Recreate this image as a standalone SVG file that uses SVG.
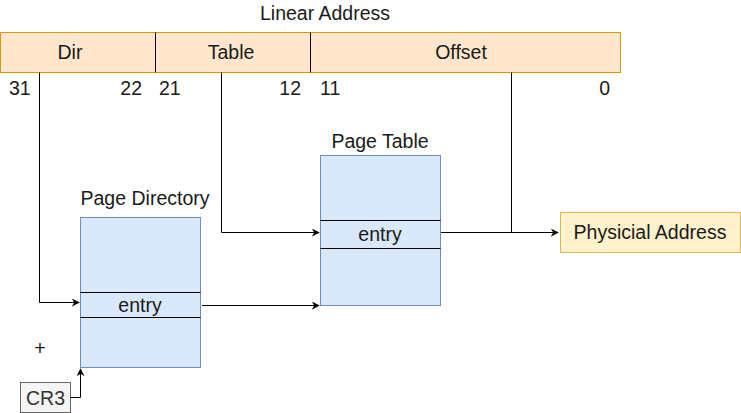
<svg xmlns="http://www.w3.org/2000/svg" width="741" height="413" viewBox="0 0 741 413">
<defs>
<style>
text{font-family:"Liberation Sans",Arial,sans-serif;font-size:19.5px;fill:#1a1a1a}
.c{text-anchor:middle}
.e{text-anchor:end}
.seg{fill:#ffe6cc;stroke:#d79b00;stroke-width:1}
.tbl{fill:#dae8fc;stroke:#6c8ebf;stroke-width:1}
.row{stroke:#000;stroke-width:1}
.ln{fill:none;stroke:#000;stroke-width:1}
</style>
<marker id="ah" viewBox="0 0 10 10" refX="9" refY="5" markerWidth="8" markerHeight="8" markerUnits="userSpaceOnUse" orient="auto">
<path d="M0,0 L10,5 L0,10 L3,5 Z" fill="#000"/>
</marker>
</defs>
<rect width="741" height="413" fill="#fff"/>
<g id="linear-address">
<text x="325" y="20" class="c">Linear Address</text>
<rect class="seg" x="0.5" y="32.5" width="155" height="40"/>
<rect class="seg" x="155.5" y="32.5" width="155" height="40"/>
<rect class="seg" x="310.5" y="32.5" width="310" height="40"/>
<line x1="155.5" y1="32.5" x2="155.5" y2="72.5" stroke="#000"/>
<line x1="310.5" y1="32.5" x2="310.5" y2="72.5" stroke="#000"/>
<text x="70" y="59" class="c">Dir</text>
<text x="231" y="59" class="c">Table</text>
<text x="461" y="59" class="c">Offset</text>
<text x="9" y="95">31</text>
<text x="142" y="95" class="e">22</text>
<text x="159" y="95">21</text>
<text x="301" y="95" class="e">12</text>
<text x="320" y="95">11</text>
<text x="610" y="95" class="e">0</text>
</g>
<g id="page-directory">
<text x="145" y="205" class="c">Page Directory</text>
<rect class="tbl" x="80.5" y="217.5" width="120" height="150"/>
<line class="row" x1="80.5" y1="292.5" x2="200.5" y2="292.5"/>
<line class="row" x1="80.5" y1="317.5" x2="200.5" y2="317.5"/>
<text x="140" y="312" class="c">entry</text>
</g>
<g id="page-table">
<text x="380" y="148" class="c">Page Table</text>
<rect class="tbl" x="320.5" y="155.5" width="120" height="150"/>
<line class="row" x1="320.5" y1="220.5" x2="440.5" y2="220.5"/>
<line class="row" x1="320.5" y1="248.5" x2="440.5" y2="248.5"/>
<text x="380" y="241" class="c">entry</text>
</g>
<g id="physical-address">
<rect x="560.5" y="212.5" width="180" height="40" fill="#fff2cc" stroke="#d6b656"/>
<text x="650" y="239" class="c">Physicial Address</text>
</g>
<g id="cr3">
<rect x="20.5" y="382.5" width="50" height="30" fill="#f5f5f5" stroke="#666"/>
<text x="45.5" y="405" class="c" style="fill:#333">CR3</text>
</g>
<g id="plus">
<text x="40" y="355" class="c">+</text>
</g>
<g id="connectors">
<polyline class="ln" points="39.5,72.5 39.5,302.5 79,302.5" marker-end="url(#ah)"/>
<polyline class="ln" points="221.5,72.5 221.5,232.5 319,232.5" marker-end="url(#ah)"/>
<polyline class="ln" points="202,305.5 319,305.5" marker-end="url(#ah)"/>
<polyline class="ln" points="511.5,72.5 511.5,232.5"/>
<polyline class="ln" points="441,232.5 558,232.5" marker-end="url(#ah)"/>
<polyline class="ln" points="70.5,397.5 80.5,397.5 80.5,369" marker-end="url(#ah)"/>
</g>
</svg>
